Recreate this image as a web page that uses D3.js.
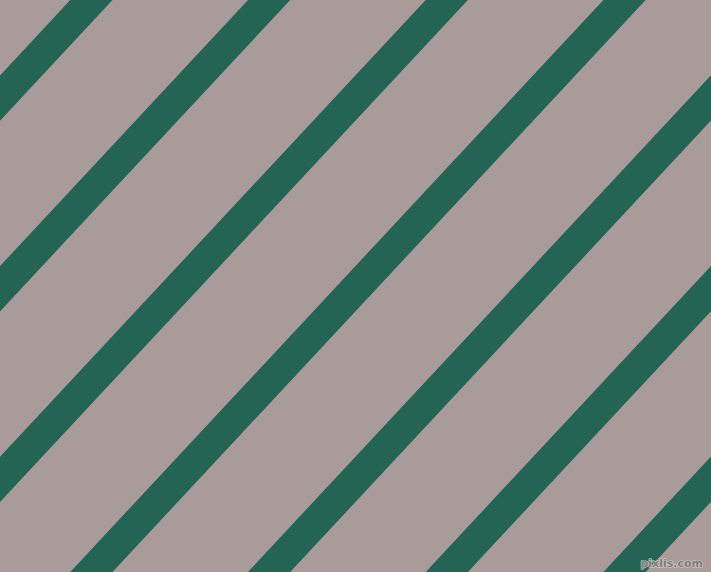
<!DOCTYPE html>
<html>
<head>
<meta charset="utf-8">
<script src="https://cdn.jsdelivr.net/npm/d3@7"></script>
<style>
html,body{margin:0;padding:0;background:#AA9B9B;overflow:hidden;}
svg{display:block;}
</style>
</head>
<body>
<div id="chart"></div>
<script>
// Data
const stripeIndex = [-1, 0, 1, 2, 3, 4, 5, 6, 7];
const colors = ["#AA9B9B", "#236455"];
const watermark = ["pixlis.com"];

const W = 711, H = 572;
const period = 177.7;   // horizontal repeat of stripes
const offset = 70.3;    // left edge of first stripe at top
const bandW = 42.2;     // horizontal width of a stripe
const k = 533.1 / 572;  // dx per dy (stripes lean left going down)

const svg = d3.select("#chart").append("svg")
  .attr("width", W).attr("height", H);

svg.append("rect").attr("width", W).attr("height", H).attr("fill", colors[0]);

// scale: stripe index -> horizontal position along the top edge
const uScale = d3.scaleLinear().domain([0, 1]).range([offset, offset + period]);
const y = d3.scaleLinear().domain([0, 1]).range([0, H]);

const line = d3.line();
svg.append("g").selectAll("path")
  .data(stripeIndex)
  .join("path")
  .attr("fill", colors[1])
  .attr("d", n => {
    const u0 = uScale(n), u1 = u0 + bandW;
    const yt = y(0) - 10, yb = y(1) + 10;
    return line([[u0 - k * yt, yt], [u1 - k * yt, yt], [u1 - k * yb, yb], [u0 - k * yb, yb]]) + "Z";
  });

svg.append("text")
  .attr("x", W - 8).attr("y", H - 5)
  .attr("text-anchor", "end")
  .attr("font-family", "DejaVu Sans, sans-serif")
  .attr("font-size", 11)
  .attr("font-weight", "bold")
  .attr("fill", "#7e7e7e")
  .attr("stroke", "#d4cccc")
  .attr("stroke-width", 1.2)
  .attr("paint-order", "stroke")
  .text(watermark[0]);
</script>
</body>
</html>
